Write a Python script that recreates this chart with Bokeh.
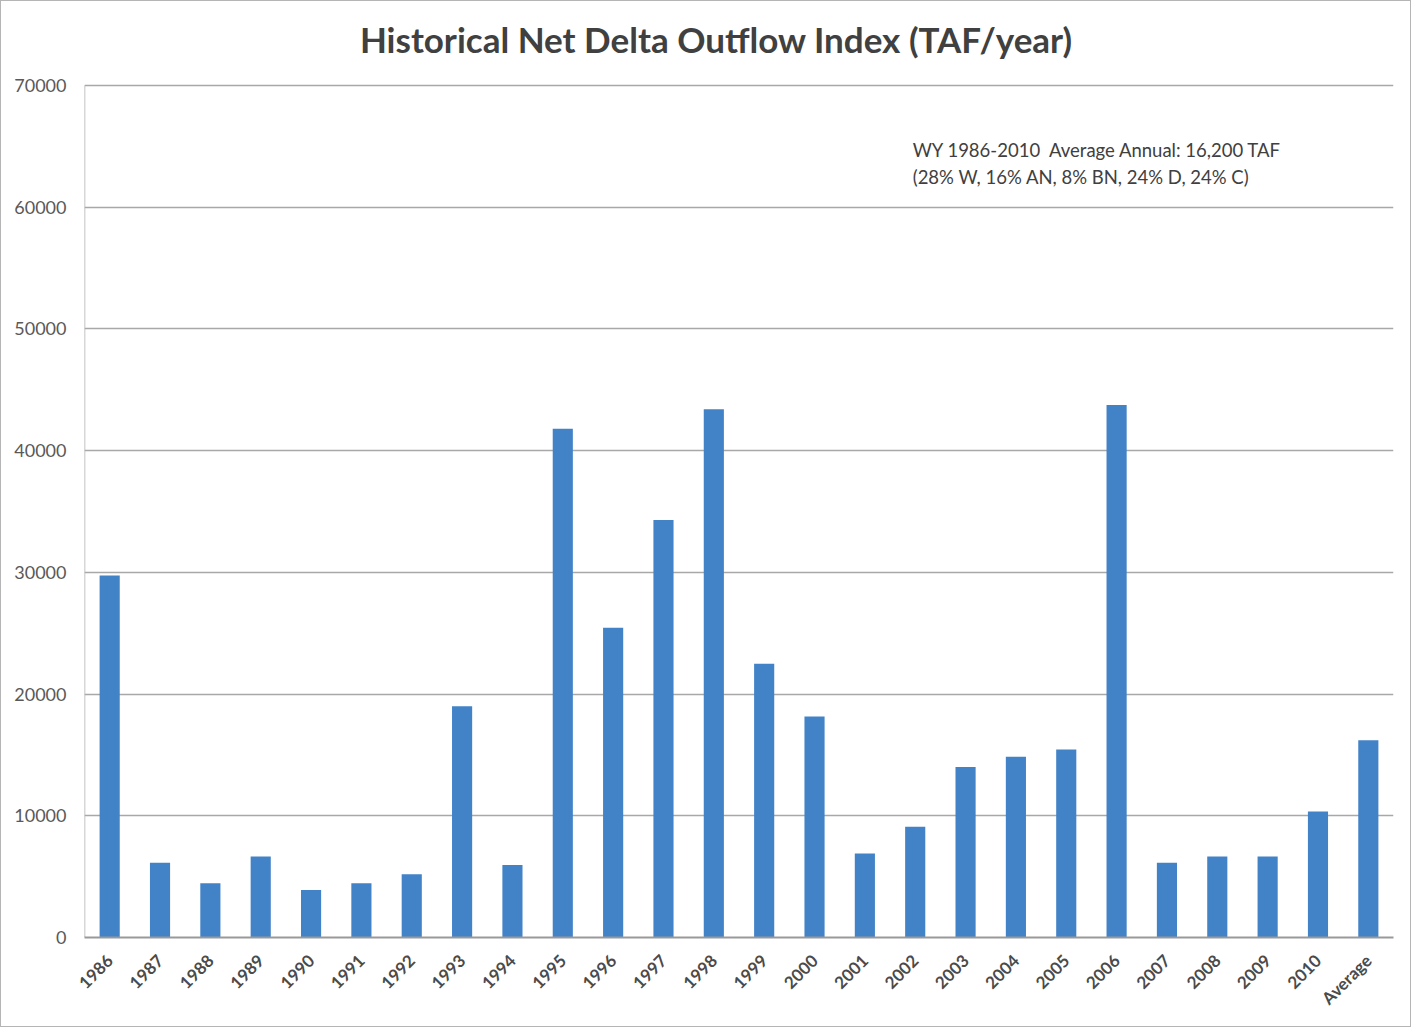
import math
from bokeh.plotting import figure
from bokeh.models import Label, FactorRange, Range1d, FixedTicker, ColumnDataSource
from bokeh.embed import file_html
from bokeh.resources import INLINE

categories = ["1986", "1987", "1988", "1989", "1990", "1991", "1992", "1993", "1994",
              "1995", "1996", "1997", "1998", "1999", "2000", "2001", "2002", "2003",
              "2004", "2005", "2006", "2007", "2008", "2009", "2010", "Average"]
values = [29750, 6150, 4450, 6650, 3900, 4450, 5200, 19000, 5950,
          41800, 25450, 34300, 43400, 22500, 18150, 6900, 9100, 14000,
          14850, 15450, 43750, 6150, 6650, 6650, 10350, 16200]
y_ticks = [0, 10000, 20000, 30000, 40000, 50000, 60000, 70000]

title_text = "Historical Net Delta Outflow Index (TAF/year)"
note_line1 = "WY 1986-2010\u00a0 Average Annual: 16,200 TAF"
note_line2 = "(28% W, 16% AN, 8% BN, 24% D, 24% C)"

FONT = "Lato"
Y_MAX = y_ticks[-1]
source = ColumnDataSource(data=dict(cat=categories, val=values))

# the frame extends above the 70000 line to hold the title
p = figure(x_range=FactorRange(*categories), y_range=Range1d(0, 76900),
           width=1411, height=1027, output_backend="svg", toolbar_location=None,
           min_border_left=83, min_border_right=19, min_border_top=0, min_border_bottom=91)
p.styles = {"border": "1px solid #b5b5b5"}

p.add_layout(Label(x=12.55, y=73780, text=title_text, text_font=FONT,
                   text_font_size="35px", text_font_style="bold", text_color="#404040",
                   text_align="center", text_baseline="middle"))

p.vbar(x="cat", top="val", width=0.4, source=source, fill_color="#4283c8", line_color=None)

# value-axis line running from 0 up to the top tick only
p.segment(x0=[0], y0=[0], x1=[0], y1=[Y_MAX], line_color="#b0b0b0", line_width=1.5)

p.outline_line_color = None
p.xgrid.grid_line_color = None
p.ygrid.grid_line_color = "#a8a8a8"
p.ygrid.grid_line_width = 1.5
p.ygrid.ticker = FixedTicker(ticks=y_ticks)

p.yaxis.ticker = FixedTicker(ticks=y_ticks)
p.yaxis.major_tick_line_color = None
p.yaxis.minor_tick_line_color = None
p.yaxis.axis_line_color = None
p.yaxis.major_label_text_font = FONT
p.yaxis.major_label_text_font_size = "18px"
p.yaxis.major_label_text_color = "#595959"
p.yaxis.major_label_standoff = 12

p.xaxis.major_tick_line_color = None
p.xaxis.axis_line_color = "#999999"
p.xaxis.axis_line_width = 2
p.xaxis.major_label_orientation = math.pi / 4
p.xaxis.major_label_text_font = FONT
p.xaxis.major_label_text_font_size = "17px"
p.xaxis.major_label_text_font_style = "bold"
p.xaxis.major_label_text_color = "#4a4a4a"
p.xaxis.major_label_standoff = 14

for txt, yv in ((note_line1, 64700), (note_line2, 62500)):
    p.add_layout(Label(x=16.45, y=yv, text=txt, text_font=FONT, text_font_size="18.5px",
                       text_color="#404040", text_baseline="middle", text_align="left"))

open("out.html", "w").write(file_html(p, INLINE))
